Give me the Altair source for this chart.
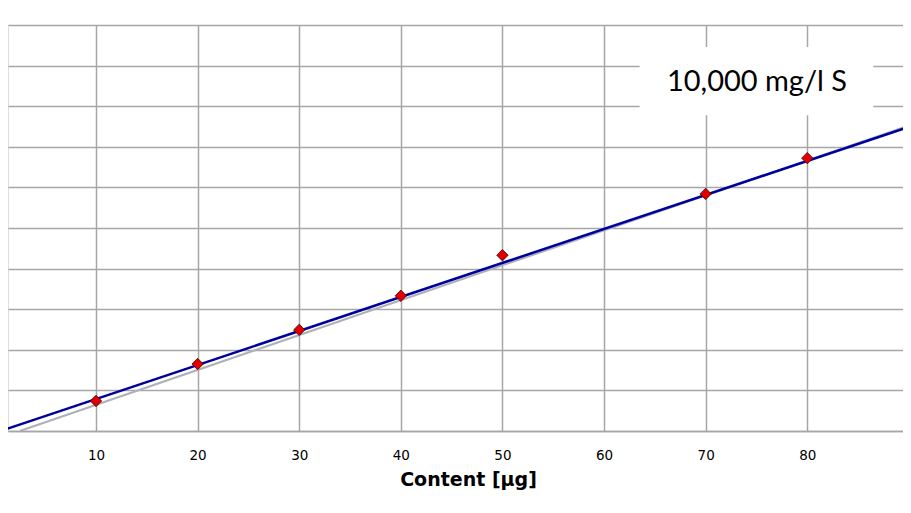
import altair as alt
import pandas as pd

# measured calibration points
content = [10, 20, 30, 40, 50, 70, 80, 90]
signal = [0.74, 1.65, 2.49, 3.33, 4.33, 5.84, 6.72, 7.46]

# regression line (blue) and second fit (gray)
fit_x = [0, 90]
fit_y = [-0.05, 7.49]
fit2_x = [2.5, 90]
fit2_y = [0.0, 7.52]

# annotation box
label_text = ["10,000 mg/l S"]
box_x = [63.5]
box_x2 = [86.5]
box_y = [7.78]
box_y2 = [9.46]
label_x = [75.05]
label_y = [8.6]

x_ticks = [10, 20, 30, 40, 50, 60, 70, 80]
y_grid = [0, 1, 2, 3, 4, 5, 6, 7, 8, 9, 10]

pts = pd.DataFrame({"x": content, "y": signal})
fit = pd.DataFrame({"x": fit_x, "y": fit_y})
fit2 = pd.DataFrame({"x": fit2_x, "y": fit2_y})
box = pd.DataFrame({"x": box_x, "x2": box_x2, "y": box_y, "y2": box_y2})
lab = pd.DataFrame({"x": label_x, "y": label_y, "t": label_text})

xs = alt.Scale(domain=[1.34, 89.42], nice=False, zero=False)
ys = alt.Scale(domain=[0, 10], nice=False, zero=False)

xax = alt.Axis(
    values=x_ticks, title="Content [µg]", grid=True, gridColor="#a6a6a6", gridWidth=1.5,
    ticks=False, tickSize=0, domainColor="#a6a6a6", domainWidth=1.5,
    labelFont="DejaVu Sans", labelFontSize=13.5, labelColor="#000000", labelPadding=17,
    titleFont="DejaVu Sans", titleFontSize=19, titleFontWeight="bold", titleColor="#000000",
    titlePadding=9, titleX=460, titleAlign="center", labelFlush=False,
)
yax = alt.Axis(
    values=y_grid, title=None, labels=False, ticks=False, domain=False,
    grid=True, gridColor="#a6a6a6", gridWidth=1.5,
)

base_x = alt.X("x:Q", scale=xs, axis=xax)
base_y = alt.Y("y:Q", scale=ys, axis=yax)

rect = alt.Chart(box).mark_rect(color="white", clip=True).encode(
    x=alt.X("x:Q", scale=xs, axis=xax), x2="x2:Q",
    y=alt.Y("y:Q", scale=ys, axis=yax), y2="y2:Q",
)
text = alt.Chart(lab).mark_text(font="Lato", fontSize=29, color="#000000", align="center",
                                baseline="middle", clip=True).encode(
    x=base_x, y=base_y, text="t:N"
)
gray = alt.Chart(fit2).mark_line(color="#b0b0b8", strokeWidth=2.2, clip=True).encode(x=base_x, y=base_y)
blue = alt.Chart(fit).mark_line(color="#0000b4", strokeWidth=2.5, clip=True).encode(x=base_x, y=base_y)
dots = alt.Chart(fit).mark_line(color="#000000", strokeWidth=1.2, strokeDash=[2, 3], opacity=0.6,
                                clip=True).encode(x=base_x, y=base_y)
points = alt.Chart(pts).mark_point(shape="diamond", filled=True, color="#e00000", size=130,
                                   stroke="#400000", strokeWidth=0.8, opacity=1, clip=True).encode(
    x=base_x, y=base_y
)

chart = alt.layer(rect, text, gray, blue, dots, points).properties(
    width=895, height=406,
    padding={"left": 0, "right": 0, "top": 17, "bottom": 5},
).configure_view(stroke=None).configure(background="white")

chart.save("out.html", embed_options={"renderer": "svg", "actions": False})
